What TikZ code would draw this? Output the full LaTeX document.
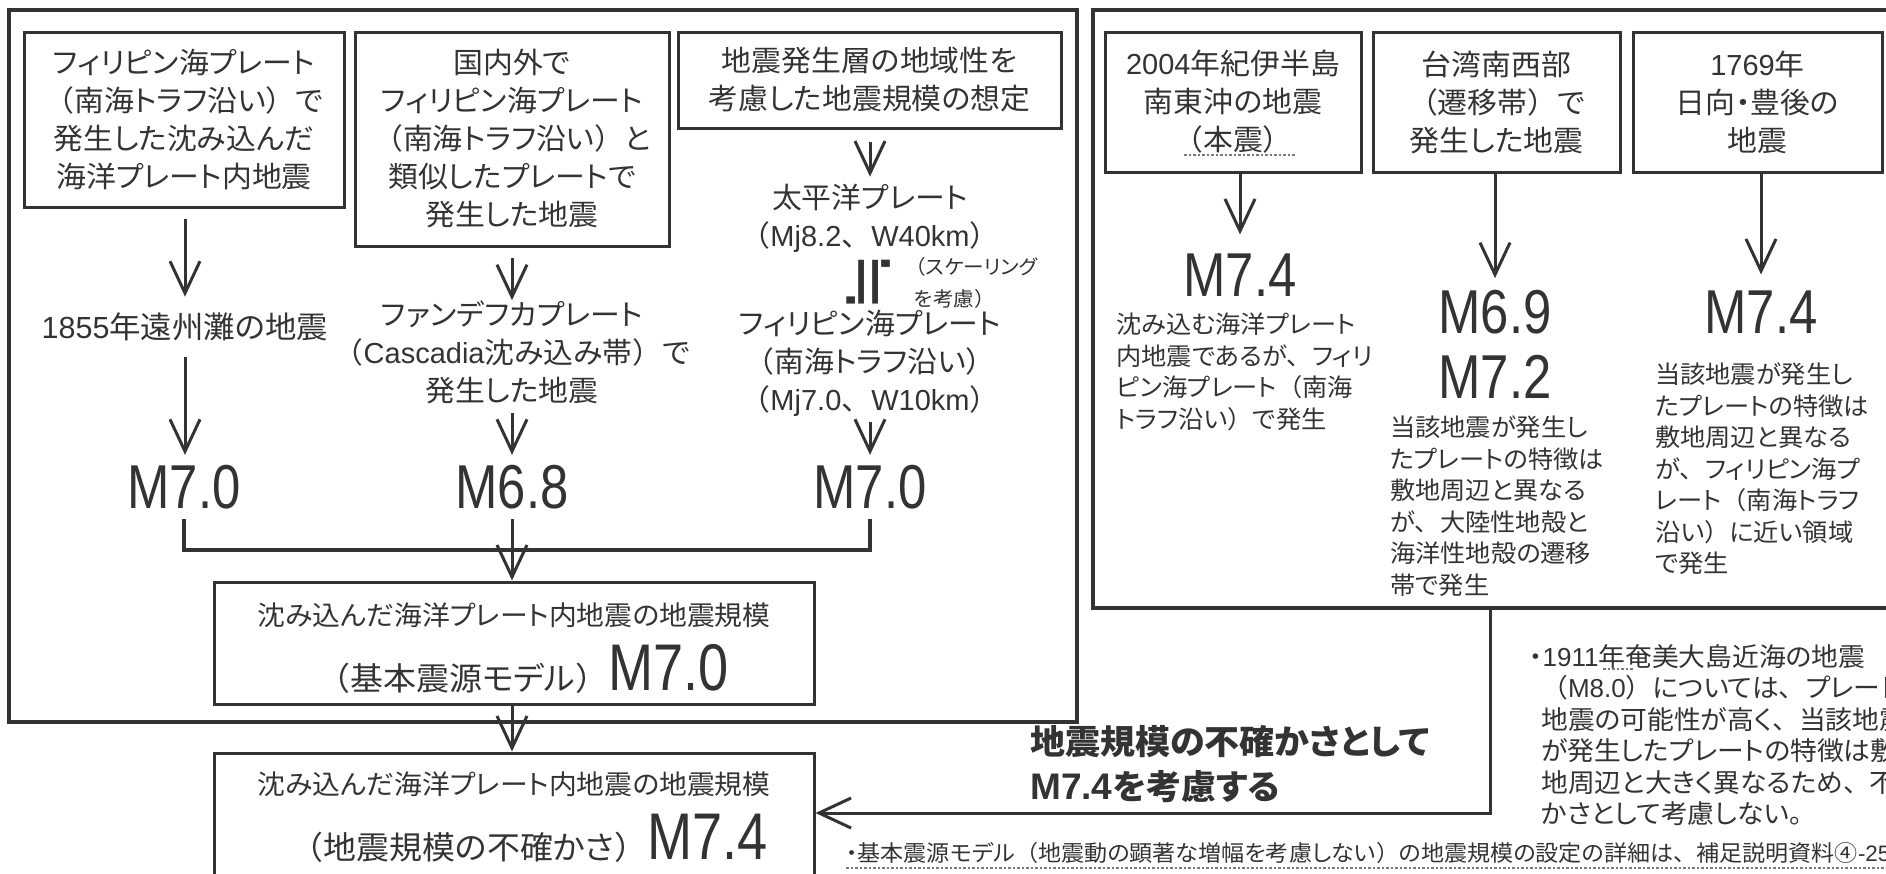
\documentclass[tikz,border=0pt]{standalone}
\usepackage{fontspec}
\setmainfont{Noto Sans CJK JP}[FakeStretch=1.03,RawFeature={+palt}]
\newfontfamily\jpfull{Noto Sans CJK JP}[FakeStretch=1.03]
\newfontfamily\lsans{Liberation Sans}
\newfontfamily\magsans{Liberation Sans}[FakeStretch=0.82]
\newfontfamily\symfont{DejaVu Sans}
\usetikzlibrary{arrows.meta, positioning, calc}
\definecolor{ink}{RGB}{51,51,51}
\definecolor{dotgray}{RGB}{120,120,120}
\newcommand\lat[1]{{\lsans #1}}
\newcommand\boxfont{\fontsize{29}{38}\selectfont}
\newcommand\notefont{\fontsize{24.5}{31.5}\selectfont}
\newcommand\magfont{\magsans\fontsize{62}{65}\selectfont}
\newcommand\firstline{\fontsize{27}{30}\selectfont}
\newcommand\secondline{\fontsize{32}{34}\selectfont}
% full-width brackets and comma
\catcode`（=\active \def（{{\jpfull\symbol{"FF08}}}
\catcode`）=\active \def）{{\jpfull\symbol{"FF09}}}
\catcode`、=\active \def、{{\jpfull\symbol{"3001}}}

\begin{document}
\begin{tikzpicture}[
    x=1pt, y=-1pt,
    frame/.style={draw=ink, line width=4.5pt, inner sep=0pt},
    box/.style={draw=ink, line width=3pt, inner sep=0pt, align=center, text=ink, font=\boxfont},
    txt/.style={text=ink, align=center, inner sep=0pt, font=\boxfont},
    notetxt/.style={text=ink, align=left, inner sep=0pt, font=\notefont},
    mag/.style={text=ink, inner sep=0pt, font=\magfont},
    arrow/.style={draw=ink, line width=3pt, -{Straight Barb[length=32pt, width=30pt]}},
    mergeline/.style={draw=ink, line width=3.5pt},
    dotline/.style={draw=dotgray, line width=1.5pt, dash pattern=on 2.5pt off 2pt}
]
\useasboundingbox (0,0) rectangle (1886,873);

% Frames
\node (lframe) [frame, minimum width=1068, minimum height=712] at (543,366) {};
\node (rframe) [frame, minimum width=812, minimum height=598] at (1499,309) {};

% Left group
\node (abox) [box, minimum width=320, minimum height=175] at (184,119.5) {フィリピン海プレート\\（南海トラフ沿い）で\\発生した沈み込んだ\\海洋プレート内地震};
\node (bbox) [box, minimum width=314, minimum height=214] at (512,139) {国内外で\\フィリピン海プレート\\（南海トラフ沿い）と\\類似したプレートで\\発生した地震};
\node (cbox) [box, minimum width=383, minimum height=96] at (869.5,80) {地震発生層の地域性を\\考慮した地震規模の想定};

\node (t1855) [txt, inner ysep=16, font=\fontsize{30.5}{38}\selectfont] at (185,327) {\lat{1855}年遠州灘の地震};
\node (fandefuca) [txt] at (512,352) {ファンデフカプレート\\（\lat{Cascadia}沈み込み帯）で\\発生した地震};
\node (pacific) [txt, inner ysep=7] at (870,218) {太平洋プレート\\（\lat{Mj8.2}、\lat{W40km}）};
\node (approx) [txt, font=\symfont\fontsize{70}{70}\selectfont, rotate=90] at (869,282) {≒};
\node (scaling) [notetxt, anchor=west, font=\fontsize{20}{32}\selectfont] at (905,283) {（スケーリング\\\hspace*{9pt}を考慮）};
\node (philsea) [txt, inner ysep=6] at (870,363) {フィリピン海プレート\\（南海トラフ沿い）\\（\lat{Mj7.0}、\lat{W10km}）};

\node (ma) [mag, inner ysep=10] at (184,487) {M7.0};
\node (mb) [mag, inner ysep=10] at (512,487) {M6.8};
\node (mc) [mag, inner ysep=10] at (870,487) {M7.0};
\coordinate (hub) at (512,550);

\node (gbox) [box, minimum width=600, minimum height=122] at (514,643) {};
\node (gtext) [txt] at (514,648) {{\firstline 沈み込んだ海洋プレート内地震の地震規模}\\[16pt]\hspace*{18pt}{\secondline （基本震源モデル）}{\magsans\fontsize{66}{66}\selectfont M7.0}};
\node (hbox) [box, minimum width=600, minimum height=147] at (514,826.5) {};
\node (htext) [txt] at (514,817) {{\firstline 沈み込んだ海洋プレート内地震の地震規模}\\[16pt]\hspace*{30pt}{\secondline （地震規模の不確かさ）}{\magsans\fontsize{66}{66}\selectfont M7.4}};

% Right group
\node (dbox) [box, minimum width=256, minimum height=140] at (1233,102) {\lat{2004}年紀伊半島\\南東沖の地震\\（本震）};
\node (ebox) [box, minimum width=247, minimum height=140] at (1496.5,102) {台湾南西部\\（遷移帯）で\\発生した地震};
\node (fbox) [box, minimum width=249, minimum height=140] at (1757.5,102) {\lat{1769}年\\日向・豊後の\\地震};

\node (dval) [mag] at (1240,275) {M7.4};
\node (evals) [mag, align=center] at (1495,344.5) {M6.9\\M7.2};
\node (fval) [mag] at (1761,312) {M7.4};

\node (dnote) [notetxt, anchor=north west] at (1116,313) {沈み込む海洋プレート\\内地震であるが、フィリ\\ピン海プレート（南海\\トラフ沿い）で発生};
\node (enote) [notetxt, anchor=north west] at (1390,416) {当該地震が発生し\\たプレートの特徴は\\敷地周辺と異なる\\が、大陸性地殻と\\海洋性地殻の遷移\\帯で発生};
\node (fnote) [notetxt, anchor=north west] at (1655,363) {当該地震が発生し\\たプレートの特徴は\\敷地周辺と異なる\\が、フィリピン海プ\\レート（南海トラフ\\沿い）に近い領域\\で発生};

% Notes
\node (uncert) [txt, align=left, anchor=west, font=\bfseries\fontsize{34}{45}\selectfont] at (1030,764.5) {地震規模の不確かさとして\\{\fontsize{37}{45}\selectfont\lat{M7.4}}を考慮する};
\node (note1911) [notetxt, anchor=north west, font=\fontsize{26}{31.5}\selectfont] at (1529,644) {・\lat{1911}年奄美大島近海の地震\\\hspace*{12pt}（\lat{M8.0}）については、プレート間\\\hspace*{12pt}地震の可能性が高く、当該地震\\\hspace*{12pt}が発生したプレートの特徴は敷\\\hspace*{12pt}地周辺と大きく異なるため、不確\\\hspace*{12pt}かさとして考慮しない。};
\node (notebase) [notetxt, anchor=west, font=\fontsize{22.4}{30}\selectfont] at (846,853) {・基本震源モデル（地震動の顕著な増幅を考慮しない）の地震規模の設定の詳細は、補足説明資料④\lat{-25}};

% Underlines
\draw[dotline] (1184,155) -- (1295,155);
\draw[dotline] (1603,669) -- (1633,669);
\draw[dotline] ([yshift=-4pt]notebase.south west) -- ([yshift=-4pt]notebase.south east);

% Connections
\draw[arrow, shorten <=10pt] (t1855 |- abox.south) -- (t1855.north);
\draw[arrow] (t1855.south) -- (t1855.south |- ma.north);
\draw[arrow, shorten <=10pt] (bbox.south) -- (fandefuca.north);
\draw[arrow, shorten <=9pt] (fandefuca.south) -- (mb.north);
\draw[arrow, shorten <=12pt] (pacific |- cbox.south) -- (pacific.north);
\draw[arrow] (philsea.south) -- (mc.north);
\draw[mergeline] (ma) |- (hub) -| (mc);
\draw[arrow] (mb.south) -- (mb.south |- gbox.north);
\draw[arrow] (gbox.south -| mb) -- (hbox.north -| mb);

\draw[arrow, shorten >=19pt] (dval |- dbox.south) -- (dval.north);
\draw[arrow, shorten >=12pt] (evals |- ebox.south) -- (evals.north);
\draw[arrow, shorten >=16pt] (fval |- fbox.south) -- (fval.north);
\coordinate (turn) at (1490,813);
\draw[arrow] (rframe.south -| turn) -- (turn) -- (turn -| hbox.east);

\end{tikzpicture}
\end{document}
